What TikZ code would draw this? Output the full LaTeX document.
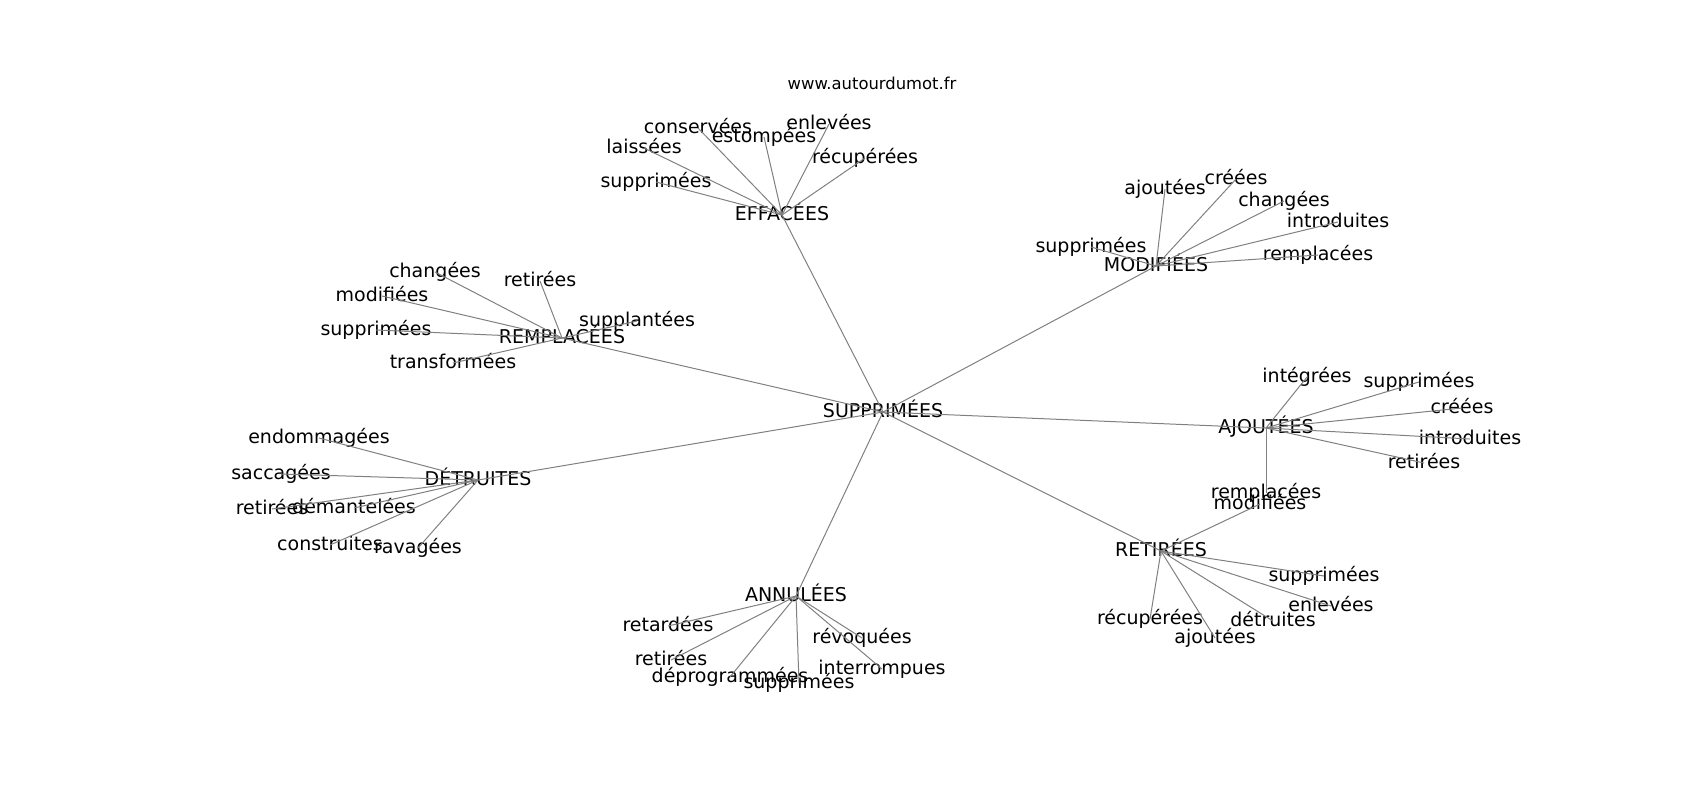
\documentclass[tikz,border=0pt]{standalone}
\usepackage{fontspec}
\setmainfont{DejaVu Sans}
\begin{document}
\begin{tikzpicture}[x=0.5pt,y=-0.5pt,
  lbl/.style={inner sep=0pt,anchor=center,text height=0.72em,text depth=0.22em,font=\fontsize{9.5}{11}\selectfont},
  hub/.style={lbl},
  edge/.style={draw=gray,line width=0.5pt}]
\useasboundingbox (0,0) rectangle (1700,800);
\node[font=\fontsize{8.2}{10}\selectfont,inner sep=0pt] (title) at (872,83) {www.autourdumot.fr};
% hubs
\node[hub] (sup) at (883,412) {SUPPRIMÉES};
\node[hub] (eff) at (782,215) {EFFACÉES};
\node[hub] (mod) at (1156,266) {MODIFIÉES};
\node[hub] (rem) at (562,338) {REMPLACÉES};
\node[hub] (det) at (478,480) {DÉTRUITES};
\node[hub] (ajo) at (1266,428) {AJOUTÉES};
\node[hub] (ret) at (1161,551) {RETIRÉES};
\node[hub] (ann) at (796,596) {ANNULÉES};
% EFFACEES leaves
\node[lbl] (ef1) at (698,128) {conservées};
\node[lbl] (ef2) at (764,137) {estompées};
\node[lbl] (ef3) at (829,124) {enlevées};
\node[lbl] (ef4) at (865,158) {récupérées};
\node[lbl] (ef5) at (644,148) {laissées};
\node[lbl] (ef6) at (656,182) {supprimées};
% MODIFIEES leaves
\node[lbl] (mo1) at (1165,189) {ajoutées};
\node[lbl] (mo2) at (1236,179) {créées};
\node[lbl] (mo3) at (1284,201) {changées};
\node[lbl] (mo4) at (1338,222) {introduites};
\node[lbl] (mo5) at (1318,255) {remplacées};
\node[lbl] (mo6) at (1091,247) {supprimées};
% REMPLACEES leaves
\node[lbl] (re1) at (435,272) {changées};
\node[lbl] (re2) at (540,281) {retirées};
\node[lbl] (re3) at (382,296) {modifiées};
\node[lbl] (re4) at (637,321) {supplantées};
\node[lbl] (re5) at (376,330) {supprimées};
\node[lbl] (re6) at (453,363) {transformées};
% DETRUITES leaves
\node[lbl] (de1) at (319,438) {endommagées};
\node[lbl] (de2) at (281,474) {saccagées};
\node[lbl] (de3) at (272,509) {retirées};
\node[lbl] (de4) at (354,508) {démantelées};
\node[lbl] (de5) at (330,545) {construites};
\node[lbl] (de6) at (418,548) {ravagées};
% AJOUTEES leaves
\node[lbl] (aj1) at (1307,377) {intégrées};
\node[lbl] (aj2) at (1419,382) {supprimées};
\node[lbl] (aj3) at (1462,408) {créées};
\node[lbl] (aj4) at (1470,439) {introduites};
\node[lbl] (aj5) at (1424,463) {retirées};
\node[lbl] (aj6) at (1266,493) {remplacées};
% RETIREES leaves
\node[lbl] (rt1) at (1260,504) {modifiées};
\node[lbl] (rt2) at (1324,576) {supprimées};
\node[lbl] (rt3) at (1331,606) {enlevées};
\node[lbl] (rt4) at (1273,621) {détruites};
\node[lbl] (rt5) at (1150,619) {récupérées};
\node[lbl] (rt6) at (1215,638) {ajoutées};
% ANNULEES leaves
\node[lbl] (an1) at (668,626) {retardées};
\node[lbl] (an2) at (862,638) {révoquées};
\node[lbl] (an3) at (671,660) {retirées};
\node[lbl] (an4) at (882,669) {interrompues};
\node[lbl] (an5) at (730,677) {déprogrammées};
\node[lbl] (an6) at (799,683) {supprimées};
% edges (behind text)
\begin{scope}[on background layer/.style={}]
\foreach \h in {eff,mod,rem,det,ajo,ret,ann}
  \draw[edge] (sup.center) -- (\h.center);
\foreach \p/\q in {eff/ef,mod/mo,rem/re,det/de,ajo/aj,ret/rt,ann/an}
  \foreach \i in {1,...,6}
    \draw[edge] (\p.center) -- (\q\i.center);
\end{scope}
\end{tikzpicture}
\end{document}
